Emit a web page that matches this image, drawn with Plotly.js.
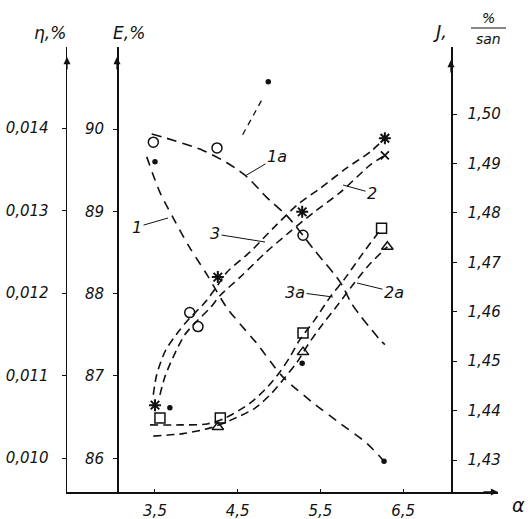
<!DOCTYPE html>
<html><head><meta charset="utf-8">
<script src="https://cdn.plot.ly/plotly-3.0.1.min.js"></script>
<style>html,body{margin:0;padding:0;background:#fff;}#chart{width:530px;height:519px;}</style>
</head><body><div id="chart"></div>
<script>
// ---- data (α on the x axis) ----
// curve 1 (η axis)
const c1X   = [3.40,3.56,3.72,3.92,4.13,4.37,4.73,5.04,5.41,5.74,6.06,6.27];
const c1Eta = [0.01365,0.01322,0.01291,0.01255,0.01222,0.01182,0.01139,0.01099,0.01067,0.01042,0.01018,0.00996];
// curve 1a (E axis)
const c1aX = [3.46,3.60,4.08,4.37,4.61,4.85,5.11,5.41,5.74,5.89,6.22,6.28];
const c1aE = [89.94,89.90,89.74,89.59,89.42,89.17,88.93,88.55,88.14,87.86,87.44,87.38];
// curve 2 (E axis)
const c2X = [3.56,3.62,3.72,3.86,4.02,4.17,4.29,4.53,4.85,5.13,5.41,5.74,6.10,6.28];
const c2E = [86.77,86.99,87.23,87.50,87.68,87.83,87.98,88.20,88.51,88.75,88.98,89.23,89.56,89.68];
// curve 2a (E axis)
const c2aX = [3.48,3.84,4.17,4.43,4.71,4.91,5.07,5.22,5.35,5.52,5.70,5.88,6.08,6.31];
const c2aE = [86.27,86.30,86.37,86.47,86.61,86.79,86.98,87.17,87.38,87.62,87.85,88.09,88.34,88.57];
// curve 3 (J axis)
const c3X = [3.48,3.52,3.62,3.78,3.92,4.10,4.26,4.37,4.65,4.93,5.22,5.50,5.82,6.10,6.28];
const c3J = [1.4432,1.4472,1.4519,1.4559,1.4587,1.4618,1.4654,1.4680,1.4721,1.4769,1.4816,1.4850,1.4891,1.4923,1.4951];
// curve 3a (J axis)
const c3aX = [3.44,3.80,4.13,4.35,4.65,4.85,5.01,5.13,5.25,5.43,5.62,5.80,6.00,6.24];
const c3aJ = [1.4371,1.4371,1.4373,1.4385,1.4415,1.4446,1.4478,1.4508,1.4543,1.4583,1.4630,1.4668,1.4715,1.4769];
// measured points
const dotX = [3.50,6.27,3.68,5.28],      dotEta = [0.01359,0.00996,0.01061,0.01115];
const circX = [3.48,4.25,5.29,3.92,4.02], circE = [89.84,89.77,88.71,87.77,87.60];
const starX = [6.28,5.28,4.26,3.50],      starJ = [1.4951,1.4802,1.4670,1.4411];
const crossX = [6.28],                    crossE = [89.68];
const sqX = [3.56,4.29,5.29,6.24],        sqJ = [1.4385,1.4385,1.4557,1.4769];
const triX = [4.26,5.29,6.31],            triE = [86.38,87.29,88.57];
// stray dashed stroke and mark near top
const strayX = [4.56,4.79], strayJ = [1.4958,1.5028];
const markX = [4.87], markJ = [1.5065];
// ticks
const xTicks = [3.5,4.5,5.5,6.5],            xTickText = ['3,5','4,5','5,5','6,5'];
const etaTicks = [0.010,0.011,0.012,0.013,0.014], etaTickText = ['0,010','0,011','0,012','0,013','0,014'];
const eTicks = [86,87,88,89,90],            eTickText = ['86','87','88','89','90'];
const jTicks = [1.43,1.44,1.45,1.46,1.47,1.48,1.49,1.50], jTickText = ['1,43','1,44','1,45','1,46','1,47','1,48','1,49','1,50'];

// ---- layout helpers ----
const L=67, R=498, T=47, B=492;
const px = x => (x-L)/(R-L);
const py = y => (B-y)/(B-T);
const FONT = {family:'DejaVu Sans', size:15, color:'#111', style:'italic'};
const BLK = '#111';

function line(x, y, ax, dash, w){
  return {x, y, yaxis:ax, mode:'lines', type:'scatter', hoverinfo:'skip',
          line:{color:BLK, width:w||1.6, dash:dash, shape:'spline', smoothing:0.8}};
}
function pts(x, y, ax, sym, size, lw){
  return {x, y, yaxis:ax, mode:'markers', type:'scatter', hoverinfo:'skip',
          marker:{symbol:sym, size:size, color:BLK, line:{color:BLK, width:lw||1.5}}};
}

const traces = [
  line(c1X, c1Eta, 'y', '9px,7px'),
  line(c1aX, c1aE, 'y2', '10px,6px'),
  line(c2X, c2E, 'y2', '8px,5px'),
  line(c2aX, c2aE, 'y2', '8px,5px'),
  line(c3X, c3J, 'y3', '8px,5px'),
  line(c3aX, c3aJ, 'y3', '8px,5px'),
  line(strayX, strayJ, 'y3', '6px,5px', 1.3),
  pts(markX, markJ, 'y3', 'circle', 4),
  pts(dotX, dotEta, 'y', 'circle', 4),
  pts(circX, circE, 'y2', 'circle-open', 10),
  pts(starX, starJ, 'y3', 'asterisk-open', 10, 2),
  pts(crossX, crossE, 'y2', 'x-thin-open', 8, 1.8),
  pts(sqX, sqJ, 'y3', 'square-open', 10),
  pts(triX, triE, 'y2', 'triangle-up-open', 10)
];

function label(text, ptx, pty, tx, ty){
  return {text, x:px(ptx), y:py(pty), xref:'paper', yref:'paper',
          ax:tx-ptx, ay:ty-pty, showarrow:true, arrowhead:0, arrowwidth:1,
          arrowcolor:BLK, standoff:0, font:{...FONT, size:16}};
}
function axArrow(xp, yTip){
  return {text:'', x:xp, y:py(yTip), xref:'paper', yref:'paper', ax:0, ay:14,
          showarrow:true, arrowhead:2, arrowsize:1.1, arrowwidth:1.3, arrowcolor:BLK};
}
function txt(text, x, y, size){
  return {text, x:px(x), y:py(y), xref:'paper', yref:'paper', showarrow:false,
          xanchor:'center', yanchor:'middle', font:{...FONT, size:size||16}};
}

const posE = px(117), posJ = px(451);

const layout = {
  width:530, height:519, margin:{l:L, r:530-R, t:T, b:519-B},
  paper_bgcolor:'#fff', plot_bgcolor:'#fff', showlegend:false,
  xaxis:{range:[2.436,7.648], showgrid:false, zeroline:false, showline:true,
         linecolor:BLK, linewidth:1.5, ticks:'inside', ticklen:3, tickcolor:BLK,
         tickvals:xTicks, ticktext:xTickText, tickfont:FONT, ticklabelstandoff:4},
  yaxis:{range:[0.0095879,0.0149818], showgrid:false, zeroline:false, showline:true,
         linecolor:BLK, linewidth:1.4, ticks:'outside', ticklen:4, tickcolor:BLK,
         tickvals:etaTicks, ticktext:etaTickText, tickfont:FONT, ticklabelstandoff:10},
  yaxis2:{range:[85.5909,90.996], overlaying:'y', anchor:'free', position:posE, side:'left',
         showgrid:false, zeroline:false, showline:true, linecolor:BLK, linewidth:1.5,
         ticks:'outside', ticklen:4, tickcolor:BLK,
         tickvals:eTicks, ticktext:eTickText, tickfont:FONT, ticklabelstandoff:6},
  yaxis3:{range:[1.423528,1.513555], overlaying:'y', anchor:'free', position:posJ, side:'right',
         showgrid:false, zeroline:false, showline:true, linecolor:BLK, linewidth:1.5,
         ticks:'outside', ticklen:4, tickcolor:BLK,
         tickvals:jTicks, ticktext:jTickText, tickfont:FONT, ticklabelstandoff:8},
  annotations:[
    axArrow(0, 57), axArrow(posE, 57), axArrow(posJ, 60),
    {text:'', x:1, y:0, xref:'paper', yref:'paper', ax:-16, ay:0, showarrow:true,
     arrowhead:2, arrowsize:1.1, arrowwidth:1.3, arrowcolor:BLK},
    txt('η,%', 50, 33, 17), txt('E,%', 129, 33, 17), txt('J,', 440, 31, 18),
    txt('%', 488, 18, 14), txt('san', 488, 39, 14), txt('α', 518, 505, 19),
    label('1', 168, 218, 137, 227),
    label('1a', 245, 176, 277, 157),
    label('2', 343, 185, 372, 193),
    label('3', 265, 242, 215, 234),
    label('3a', 333, 297, 295, 292),
    label('2a', 357, 283, 394, 292)
  ],
  shapes:[
    {type:'line', xref:'paper', yref:'paper', x0:px(471), x1:px(506), y0:py(28), y1:py(28),
     line:{color:BLK, width:1.2}}
  ]
};

Plotly.newPlot('chart', traces, layout, {staticPlot:true, displayModeBar:false});
</script>
</body></html>
